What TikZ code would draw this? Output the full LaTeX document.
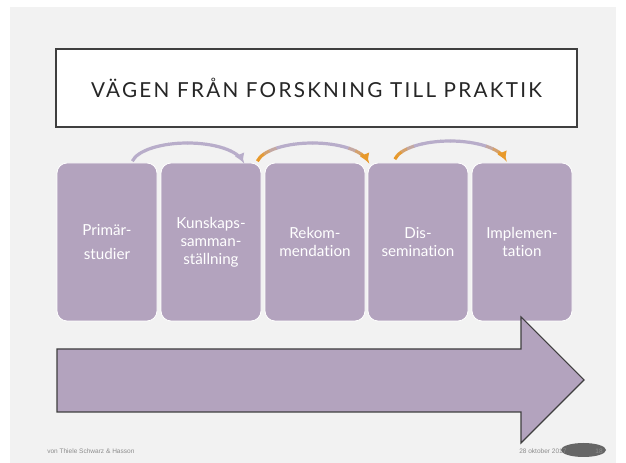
\documentclass[tikz,border=0pt]{standalone}
\usepackage{fontspec}
\setmainfont{Lato}[Ligatures=NoCommon]
\newfontfamily\footfont{Liberation Sans}
\usetikzlibrary{arrows.meta,calc}
\definecolor{slidebg}{HTML}{F2F2F2}
\definecolor{boxfill}{HTML}{B3A3BE}
\definecolor{framecol}{HTML}{3F3F3F}
\definecolor{orng}{HTML}{E8992A}
\definecolor{lav}{HTML}{B8ADCA}
\definecolor{foot}{HTML}{8C8C8C}
\begin{document}
\begin{tikzpicture}[x=0.75pt,y=-0.75pt,
  stepbox/.style={draw=white,line width=0.6pt,fill=boxfill,rounded corners=7.5pt,
    minimum width=75pt,minimum height=118.5pt,inner sep=0pt,text=white,
    font=\fontsize{11.4}{13.5}\selectfont,align=center},
  titlebox/.style={draw=framecol,line width=1.5pt,fill=white,minimum width=391pt,
    minimum height=58.5pt,inner sep=0pt,text=black!85,
    font=\fontsize{15.5}{18}\selectfont\addfontfeatures{LetterSpace=11}},
  bigarrow/.style={fill=boxfill,draw=framecol,line width=0.8pt,line join=miter},
  arcseg/.style={line width=2.4pt,line cap=butt},
  foottext/.style={text=foot,font=\footfont\fontsize{4.9}{6}\selectfont,inner sep=0pt}]
\useasboundingbox (0,0) rectangle (626,463);
\fill[slidebg] (10,7) rectangle (616,463);
% title
\node[titlebox] (title) at (316.5,88) {VÄGEN FRÅN FORSKNING TILL PRAKTIK};
% step boxes
\node[stepbox,font=\fontsize{11.4}{18}\selectfont] (b1) at (107,242) {Primär-\\studier};
\node[stepbox] (b2) at (211,242) {Kunskaps-\\samman-\\ställning};
\node[stepbox] (b3) at (315,242) {Rekom-\\mendation};
\node[stepbox] (b4) at (418,242) {Dis-\\semination};
\node[stepbox] (b5) at (522,242) {Implemen-\\tation};
% curved arrows
\coordinate (c1) at (187.5,165);
\coordinate (c2) at (312.5,165);
\coordinate (c3) at (450,163);
\foreach \cc/\og in {c1/0,c2/1,c3/1}{
  \foreach \i in {0,...,15}{
    \pgfmathsetmacro\aa{190+10*\i}
    \pgfmathsetmacro\ff{abs(\i-7.5)/7.5}
    \pgfmathsetmacro\pp{\og*min(100,max(0,(\ff-0.5)/0.4*100))}
    \ifnum\i=15
      \draw[arcseg,color=orng!\pp!lav,-{Triangle[length=5.5pt,width=7pt]}]
        ($(\cc)+({56*cos(\aa)},{22*sin(\aa)})$) arc[start angle=\aa,delta angle=10,x radius=56,y radius=22];
    \else
      \draw[arcseg,color=orng!\pp!lav]
        ($(\cc)+({56*cos(\aa)},{22*sin(\aa)})$) arc[start angle=\aa,delta angle=10.5,x radius=56,y radius=22];
    \fi
  }
}
% big arrow
\draw[bigarrow] (57,349) -- (521,349) -- (521,317) -- (584,380) -- (521,443) -- (521,412) -- (57,412) -- cycle;
% footer
\node[foottext,anchor=west] (author) at (47,451) {von Thiele Schwarz \& Hasson};
\fill[black!60] (583.5,450) ellipse[x radius=22.5,y radius=7];
\node[foottext,anchor=west] (date) at (519,451) {28 oktober 2017};
\node[foottext,text=black!45] (page) at (599,451) {18};
\end{tikzpicture}
\end{document}
